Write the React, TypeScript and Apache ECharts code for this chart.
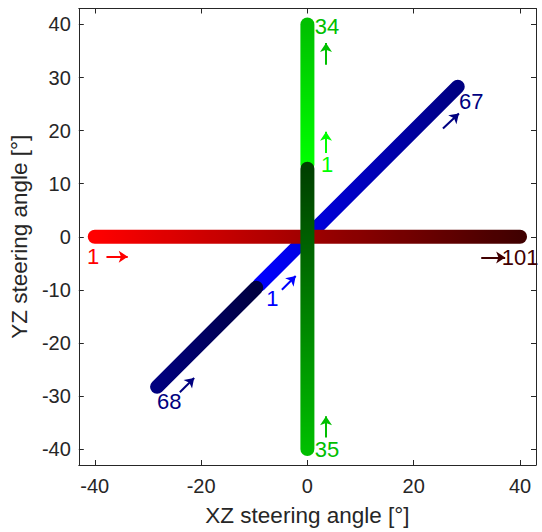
import React, { useEffect, useRef } from 'react';
import * as echarts from 'echarts';

// ---------- data ----------
const axisRange = [-43, 43];
const xTicks = [-40, -20, 0, 20, 40];
const yTicks = [-40, -30, -20, -10, 0, 10, 20, 30, 40];

// beam paths (start -> end), drawn in this order (later on top)
const bluePathA = [[-9.05, -9.05], [28.28, 28.28]];   // indices 1..67
const bluePathB = [[-28.28, -28.28], [-9.62, -9.62]]; // indices 68..101
const redPath = [[-40, 0], [40, 0]];                  // indices 1..101
const greenPathA = [[0, 13.6], [0, 40]];              // indices 1..34
const greenPathB = [[0, -40], [0, 12.8]];             // indices 35..101

// index annotations
const labelTexts = ['1', '101', '1', '67', '68', '1', '34', '35'];
const labelX = [-40.2, 40.1, -6.5, 30.9, -25.9, 3.8, 3.8, 3.8];
const labelY = [-3.9, -4.0, -11.8, 25.4, -31.1, 13.5, 39.6, -40.2];

// direction arrows
const arrowFrom = [[-37.8, -3.75], [32.7, -3.9], [-4.8, -10.0], [25.5, 20.4], [-24.0, -29.3], [3.5, 15.8], [3.5, 32.4], [3.5, -37.8]];
const arrowTo = [[-33.8, -3.75], [37.2, -3.9], [-2.2, -7.4], [28.5, 23.2], [-21.3, -26.6], [3.5, 19.8], [3.5, 36.5], [3.5, -33.8]];

// ---------- styles ----------
const FONT = '"Liberation Sans", Arial, Helvetica, sans-serif';
const AXIS_COLOR = '#262626';
const pathColors: string[][] = [
  ['#0000ff', '#000081'],
  ['#00007f', '#000040'],
  ['#ff0000', '#400000'],
  ['#00ff00', '#00c000'],
  ['#00be00', '#004000'],
];
const pathDims = [0, 0, 0, 1, 1];
const annotationColors = ['#ff0000', '#410000', '#0000ff', '#000081', '#00007f', '#00ff00', '#00c000', '#00be00'];

export default function App() {
  const ref = useRef<HTMLDivElement>(null);

  useEffect(() => {
    if (!ref.current) return;
    const chart = echarts.init(ref.current, undefined, { renderer: 'svg' });
    const paths = [bluePathA, bluePathB, redPath, greenPathA, greenPathB];

    const lineSeries = paths.map((p) => ({
      type: 'line',
      data: p,
      symbol: 'none',
      silent: true,
      clip: false,
      lineStyle: { width: 14, cap: 'round' },
      xAxisIndex: 0,
      yAxisIndex: 0,
      z: 2,
    }));

    const visualMaps = paths.map((p, i) => {
      const d = pathDims[i];
      const cols = p[0][d] <= p[1][d] ? pathColors[i] : [...pathColors[i]].reverse();
      return {
        type: 'continuous',
        show: false,
        seriesIndex: i,
        dimension: d,
        min: Math.min(p[0][d], p[1][d]),
        max: Math.max(p[0][d], p[1][d]),
        inRange: { color: cols },
        outOfRange: { color: cols },
      };
    });

    const annotationSeries = {
      type: 'scatter',
      symbol: 'circle',
      symbolSize: 1,
      silent: true,
      z: 5,
      itemStyle: { color: 'rgba(0,0,0,0)' },
      label: {
        show: true,
        position: [0, 0],
        align: 'center',
        verticalAlign: 'middle',
        formatter: '{b}',
        fontSize: 22,
        fontFamily: FONT,
        opacity: 1,
      },
      data: labelTexts.map((t, i) => ({
        name: t,
        value: [labelX[i], labelY[i]],
        label: { color: annotationColors[i] },
      })),
      markLine: {
        silent: true,
        symbol: ['none', 'arrow'],
        symbolSize: 9,
        label: { show: false },
        lineStyle: { width: 2, type: 'solid' },
        emphasis: { disabled: true },
        data: arrowFrom.map((a, i) => [
          { coord: a, lineStyle: { color: annotationColors[i], width: 2, type: 'solid' } },
          { coord: arrowTo[i] },
        ]),
      },
    };

    const tickStyle = { inside: true, length: 5, lineStyle: { color: AXIS_COLOR, width: 1 } };
    const lineStyle = { show: true, onZero: false, lineStyle: { color: AXIS_COLOR, width: 1 } };
    const labelStyle = { color: AXIS_COLOR, fontSize: 20, fontFamily: FONT };
    const nameStyle = { color: AXIS_COLOR, fontSize: 22.5, fontFamily: FONT };

    chart.setOption({
      animation: false,
      grid: { left: 78, top: 8.5, width: 458, height: 457.5, containLabel: false },
      xAxis: [
        {
          type: 'value', position: 'bottom', min: axisRange[0], max: axisRange[1],
          axisLine: lineStyle, splitLine: { show: false },
          axisTick: { ...tickStyle, customValues: xTicks },
          axisLabel: { ...labelStyle, margin: 11, customValues: xTicks },
          name: 'XZ steering angle [°]', nameLocation: 'middle', nameGap: 39, nameTextStyle: nameStyle,
        },
        {
          type: 'value', position: 'top', min: axisRange[0], max: axisRange[1],
          axisLine: lineStyle, splitLine: { show: false },
          axisTick: { ...tickStyle, customValues: xTicks },
          axisLabel: { show: false },
        },
      ],
      yAxis: [
        {
          type: 'value', position: 'left', min: axisRange[0], max: axisRange[1],
          axisLine: lineStyle, splitLine: { show: false },
          axisTick: { ...tickStyle, customValues: yTicks },
          axisLabel: { ...labelStyle, margin: 8, customValues: yTicks },
          name: 'YZ steering angle [°]', nameLocation: 'middle', nameGap: 31, nameTextStyle: nameStyle,
        },
        {
          type: 'value', position: 'right', min: axisRange[0], max: axisRange[1],
          axisLine: lineStyle, splitLine: { show: false },
          axisTick: { ...tickStyle, customValues: yTicks },
          axisLabel: { show: false },
        },
      ],
      visualMap: visualMaps,
      series: [...lineSeries, annotationSeries],
    });

    return () => chart.dispose();
  }, []);

  return (
    <div
      ref={ref}
      style={{ position: 'fixed', left: 0, top: 0, width: 542, height: 532, background: '#ffffff' }}
    />
  );
}
